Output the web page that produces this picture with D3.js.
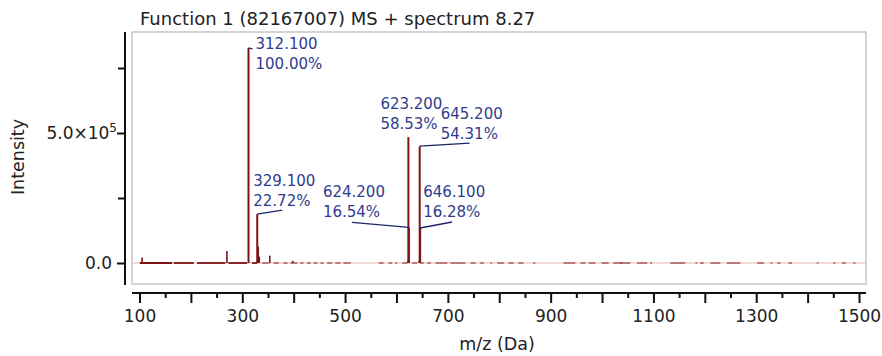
<!DOCTYPE html>
<html>
<head>
<meta charset="utf-8">
<script src="https://cdn.jsdelivr.net/npm/d3@7"></script>
<style>
  body { margin: 0; background: #fff; }
  text { font-family: "DejaVu Sans", Verdana, sans-serif; }
</style>
</head>
<body>
<div id="chart"></div>
<script>
// Base peak intensity (counts) — 100% in the labels
const basePeak = 827000;

// Labelled peaks: m/z and relative intensity (%)
const labelMz  = [312.1, 329.1, 623.2, 645.2, 624.2, 646.1];
const labelPct = [100.00, 22.72, 58.53, 54.31, 16.54, 16.28];

// Small unlabelled peaks
const minorMz  = [105.0, 270.1, 331.1, 333.1, 353.5, 398.0, 622.0, 644.0];
const minorPct = [2.5, 5.6, 7.6, 3.0, 3.4, 1.0, 0.8, 0.8];

// Stretches of m/z where the trace sits on the baseline
const baseRanges = [
  [100.6,163.5],[166.7,205.6],[212,267],[273,309.5],[319,329],[338.7,351.6],
  [361,371],[380,388],[394,407],[413,419],[426,433],[439,446],[452,458],
  [465,475],[481,491],[497,511],[565.6,575],[584.5,591.6],[598,601],[611,621],
  [630.5,640],[646.7,653],[660,667],[676,699],[705,734],[744,754],[763,770],
  [783,786],[796,809],[818,828],[837,847],[866,870],[925,948],[958,968],
  [974,987],[999,1013],[1022,1039],[1036,1055],[1068,1088],[1094,1097],
  [1133,1162],[1182,1185],[1191,1198],[1211,1230],[1243,1269],[1302,1315],
  [1328,1331],[1341,1347],[1363,1370],[1418,1421],[1450,1454],[1467,1474],
  [1489,1493]
];

// Axis ticks
const xMajor = [100, 200, 300, 400, 500, 600, 700, 800, 900, 1000, 1100, 1200, 1300, 1400, 1500];
const xMinor = [150, 250, 350, 450, 550, 650, 750, 850, 950, 1050, 1150, 1250, 1350, 1450];
const xLabelled = [100, 300, 500, 700, 900, 1100, 1300, 1500];
const yMajor = [0, 500000];
const yMinor = [250000, 750000];

// Label placement relative to each peak top (layout only)
const labelLayout = [
  {dx: 7,   dy: 1,   leader: [4, 1]},
  {dx: -4,  dy: -28, leader: [25, -4]},
  {dx: -28, dy: -28, leader: null},
  {dx: 21,  dy: -27, leader: [50, -3]},
  {dx: -86, dy: -30, leader: [-57, -5]},
  {dx: 3,   dy: -31, leader: [32, -6]}
];

const W = 882, H = 356;
const frame = {x0: 132, y0: 32, x1: 866, y1: 284};
const peakColor = "#7d1315";
const labelColor = "#2f3c8e";

const svg = d3.select("#chart").append("svg")
    .attr("width", W)
    .attr("height", H);

const x = d3.scaleLinear().domain([100, 1500]).range([139.5, 859]);
const y = d3.scaleLinear().domain([0, 500000]).range([263, 133]);
const pctY = p => y(p / 100 * basePeak);

// Title
svg.append("text")
    .attr("x", 140)
    .attr("y", 25)
    .attr("font-size", 18)
    .attr("fill", "#222")
    .text("Function 1 (82167007) MS + spectrum 8.27");

// Plot frame
svg.append("rect")
    .attr("x", frame.x0).attr("y", frame.y0)
    .attr("width", frame.x1 - frame.x0).attr("height", frame.y1 - frame.y0)
    .attr("fill", "none")
    .attr("stroke", "#c6c6c6")
    .attr("stroke-width", 1.5);

// Zero line
svg.append("line")
    .attr("x1", frame.x0 + 1).attr("x2", frame.x1 - 1)
    .attr("y1", y(0)).attr("y2", y(0))
    .attr("stroke", "#e9b4b4")
    .attr("stroke-width", 1);

// Baseline trace (denser, darker at low m/z)
svg.append("g").selectAll("line")
  .data(baseRanges)
  .enter().append("line")
    .attr("x1", d => x(d[0])).attr("x2", d => x(d[1]))
    .attr("y1", y(0)).attr("y2", y(0))
    .attr("stroke", peakColor)
    .attr("stroke-width", d => d[0] < 320 ? 1.8 : 1.3)
    .attr("stroke-opacity", d => d[0] < 320 ? 1 : 0.75);

// Minor peaks
svg.append("g").selectAll("line")
  .data(minorMz.map((m, i) => ({mz: m, pct: minorPct[i]})))
  .enter().append("line")
    .attr("x1", d => x(d.mz)).attr("x2", d => x(d.mz))
    .attr("y1", y(0)).attr("y2", d => pctY(d.pct))
    .attr("stroke", peakColor)
    .attr("stroke-width", 1.6);

// Labelled peaks
const peaks = labelMz.map((m, i) => ({mz: m, pct: labelPct[i], lay: labelLayout[i]}));

svg.append("g").selectAll("line")
  .data(peaks)
  .enter().append("line")
    .attr("x1", d => x(d.mz)).attr("x2", d => x(d.mz))
    .attr("y1", y(0)).attr("y2", d => pctY(d.pct))
    .attr("stroke", peakColor)
    .attr("stroke-width", 2);

// Leader lines
svg.append("g").selectAll("line")
  .data(peaks.filter(d => d.lay.leader))
  .enter().append("line")
    .attr("x1", d => x(d.mz)).attr("y1", d => pctY(d.pct))
    .attr("x2", d => x(d.mz) + d.lay.leader[0])
    .attr("y2", d => pctY(d.pct) + d.lay.leader[1])
    .attr("stroke", "#1d2566")
    .attr("stroke-width", 1.3);

// Peak labels
const lab = svg.append("g").selectAll("text")
  .data(peaks)
  .enter().append("text")
    .attr("font-size", 15)
    .attr("fill", labelColor)
    .attr("x", d => x(d.mz) + d.lay.dx)
    .attr("y", d => pctY(d.pct) + d.lay.dy);
lab.append("tspan")
    .text(d => d.mz.toFixed(3));
lab.append("tspan")
    .attr("x", d => x(d.mz) + d.lay.dx)
    .attr("dy", 20)
    .text(d => d.pct.toFixed(2) + "%");

// X axis
const xAxisY = 293;
svg.append("line")
    .attr("x1", frame.x0).attr("x2", frame.x1)
    .attr("y1", xAxisY).attr("y2", xAxisY)
    .attr("stroke", "#111").attr("stroke-width", 2);

const gxMinor = svg.append("g")
    .attr("transform", `translate(0,${xAxisY})`)
    .call(d3.axisBottom(x).tickValues(xMinor).tickSize(5).tickFormat(""));
const gxMajor = svg.append("g")
    .attr("transform", `translate(0,${xAxisY})`)
    .call(d3.axisBottom(x).tickValues(xMajor).tickSize(10).tickPadding(7)
        .tickFormat(d => xLabelled.includes(d) ? d : ""));
[gxMinor, gxMajor].forEach(g => {
  g.select(".domain").remove();
  g.selectAll(".tick line").attr("stroke", "#111").attr("stroke-width", 2);
});
gxMajor.selectAll(".tick text")
    .attr("font-size", 17)
    .attr("font-family", "DejaVu Sans, sans-serif")
    .attr("fill", "#222");

svg.append("text")
    .attr("x", 497)
    .attr("y", 350)
    .attr("text-anchor", "middle")
    .attr("font-size", 17.5)
    .attr("fill", "#222")
    .text("m/z (Da)");

// Y axis
const yAxisX = 125;
svg.append("line")
    .attr("x1", yAxisX).attr("x2", yAxisX)
    .attr("y1", frame.y0).attr("y2", frame.y1 + 1)
    .attr("stroke", "#111").attr("stroke-width", 2);

const gyMinor = svg.append("g")
    .attr("transform", `translate(${yAxisX},0)`)
    .call(d3.axisLeft(y).tickValues(yMinor).tickSize(7).tickFormat(""));
const gyMajor = svg.append("g")
    .attr("transform", `translate(${yAxisX},0)`)
    .call(d3.axisLeft(y).tickValues(yMajor).tickSize(8).tickPadding(5)
        .tickFormat(d => d === 0 ? "0.0" : "5.0×10"));
[gyMinor, gyMajor].forEach(g => {
  g.select(".domain").remove();
  g.selectAll(".tick line").attr("stroke", "#111").attr("stroke-width", 2);
});
gyMajor.selectAll(".tick text")
    .attr("font-size", 17)
    .attr("font-family", "DejaVu Sans, sans-serif")
    .attr("fill", "#222")
    .each(function(d) {
      if (d === 500000) {
        d3.select(this).attr("x", -8)
          .append("tspan")
            .attr("dy", "-0.55em")
            .attr("font-size", 12)
            .text("5");
      }
    });

svg.append("text")
    .attr("transform", "rotate(-90)")
    .attr("x", -157)
    .attr("y", 24)
    .attr("text-anchor", "middle")
    .attr("font-size", 17.5)
    .attr("fill", "#222")
    .text("Intensity");
</script>
</body>
</html>
